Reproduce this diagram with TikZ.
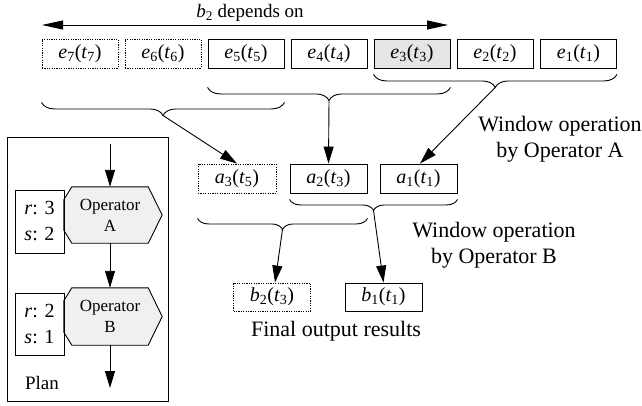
\documentclass[tikz,border=0pt]{standalone}
\usepackage{fontspec}
\setmainfont{Liberation Serif}
\usetikzlibrary{arrows.meta,calc,decorations.pathreplacing,backgrounds}
\newcommand\lab[4]{\textit{#1}\textsubscript{#2}(\textit{#3}\textsubscript{#4})}
\tikzset{
 box/.style={draw, line width=0.9pt, minimum width=76pt, minimum height=29pt, inner sep=0pt, font=\fontsize{20}{24}\selectfont},
 dbox/.style={box, dash pattern=on 1.2pt off 1.2pt},
 arr/.style={line width=0.9pt, -{Triangle[length=17pt,width=10pt]}},
 brc/.style={decorate, decoration={brace, mirror, amplitude=13pt}, line width=0.9pt},
 brcs/.style={decorate, decoration={brace, mirror, amplitude=11pt}, line width=0.9pt},
 capt/.style={font=\fontsize{22}{26}\selectfont, align=center},
 opbox/.style={minimum width=76pt, inner sep=0pt, align=center, font=\fontsize{17}{21}\selectfont},
 rsbox/.style={draw, line width=0.9pt, minimum width=49pt, inner sep=0pt, align=center, font=\fontsize{20}{26}\selectfont},
}
\begin{document}
\begin{tikzpicture}[x=1pt,y=-1pt]
\useasboundingbox (0,0) rectangle (642,405);
% top arrow
\coordinate (dl) at (42,25);
\coordinate (dr) at (448,25);
\draw[line width=0.9pt, {Triangle[length=21pt,width=9pt]}-{Triangle[length=21pt,width=9pt]}] (dl) -- (dr);
\node[font=\fontsize{19}{23}\selectfont] (dep) at (250,13) {\textit{b}\textsubscript{2} depends on};
% events
\node[dbox] (e7) at (80,53.5) {\lab{e}{7}{t}{7}};
\node[dbox] (e6) at (163,53.5) {\lab{e}{6}{t}{6}};
\node[box] (e5) at (246,53.5) {\lab{e}{5}{t}{5}};
\node[box] (e4) at (329,53.5) {\lab{e}{4}{t}{4}};
\node[box, fill=black!10] (e3) at (412,53.5) {\lab{e}{3}{t}{3}};
\node[box] (e2) at (495,53.5) {\lab{e}{2}{t}{2}};
\node[box] (e1) at (578.5,53.5) {\lab{e}{1}{t}{1}};
% upper braces
\draw[brc] ($(e7.south west)+(0,34)$) -- ($(e5.south east)+(0,34)$);
\coordinate (w1) at ($(e7.south west)!0.5!(e5.south east)+(0,47)$);
\draw[brc] ($(e5.south west)+(0,19)$) -- ($(e3.south east)+(0,19)$);
\coordinate (w2) at ($(e5.south west)!0.5!(e3.south east)+(0,32)$);
\draw[brc] ($(e3.south west)+(0,6)$) -- ($(e1.south east)+(0,6)$);
\coordinate (w3) at ($(e3.south west)!0.5!(e1.south east)+(0,19)$);
% a results
\node[dbox, minimum width=78pt] (a3) at (237,178.5) {\lab{a}{3}{t}{5}};
\node[box, minimum width=77pt] (a2) at (328.5,178.5) {\lab{a}{2}{t}{3}};
\node[box, minimum width=77pt] (a1) at (418.5,178.5) {\lab{a}{1}{t}{1}};
\draw[arr] (w1) -- (a3.north);
\draw[arr] (w2) -- (a2.north);
\draw[arr] (w3) -- ($(a1.north)+(1.5,0)$);
% lower braces
\draw[brcs] ($(a2.south west)+(0,6)$) -- ($(a1.south east)+(0,6)$);
\coordinate (v1) at ($(a2.south west)!0.5!(a1.south east)+(0,17)$);
\draw[brcs] ($(a3.south west)+(0,25)$) -- ($(a2.south east)+(0,25)$);
\coordinate (v2) at ($(a3.south west)!0.5!(a2.south east)+(0,36)$);
% b results
\node[dbox, minimum width=77pt, minimum height=28pt] (b2) at (272,297) {\lab{b}{2}{t}{3}};
\node[box, minimum width=77pt, minimum height=28pt] (b1) at (383.5,297) {\lab{b}{1}{t}{1}};
\draw[arr] (v2) -- ($(b2.north)+(3,0)$);
\draw[arr] (v1) -- (b1.north);
% captions
\node[capt] (capA) at (560,139) {Window operation\\by Operator A};
\node[capt] (capB) at (494,245) {Window operation\\by Operator B};
\node[capt] (capF) at (336,331) {Final output results};
% plan
\node[draw, line width=0.9pt, minimum width=161pt, minimum height=264pt, inner sep=0pt] (plan) at (87.5,269) {};
\node[opbox, minimum height=56pt] (opA) at (110,215) {Operator\\A};
\node[opbox, minimum height=57pt] (opB) at (110,316.5) {Operator\\B};
\begin{scope}[on background layer]
\foreach \n in {opA,opB}
  \draw[line width=0.9pt, fill=black!6] (\n.north west) -- (\n.north east) -- ($(\n.east)+(14,0)$) -- (\n.south east) -- (\n.south west) -- ($(\n.south west)+(-8,-13)$) -- ($(\n.north west)+(-8,13)$) -- cycle;
\end{scope}
\node[rsbox, minimum height=63pt] (rsA) at (39.5,221.5) {\textit{r}: 3\\\textit{s}: 2};
\node[rsbox, minimum height=62pt] (rsB) at (39.5,324) {\textit{r}: 2\\\textit{s}: 1};
\coordinate (pin) at (110,144);
\coordinate (pout) at (110,388);
\draw[arr] (pin) -- (opA.north);
\draw[arr] (opA.south) -- (opB.north);
\draw[arr] (opB.south) -- (pout);
\node[font=\fontsize{19}{23}\selectfont] (plantxt) at (42,383) {Plan};
\end{tikzpicture}
\end{document}
